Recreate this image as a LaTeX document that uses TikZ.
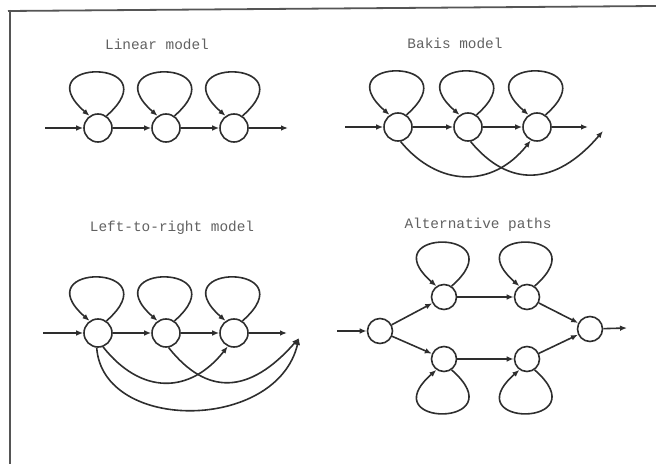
\documentclass[tikz,border=0pt]{standalone}
\usepackage{fontspec}
\setmonofont{Liberation Mono}
\usetikzlibrary{arrows.meta}
\definecolor{ink}{HTML}{2E2E2E}
\definecolor{frame}{HTML}{555555}
\begin{document}
\begin{tikzpicture}[x=0.5pt,y=-0.5pt,
  st/.style={circle,draw=ink,line width=0.8pt,minimum size=14pt,inner sep=0pt},
  sts/.style={st,minimum size=12.5pt},
  arr/.style={draw=ink,line width=0.8pt,-{Latex[length=3.5pt,width=2.8pt]}},
  uploop/.style={to path={.. controls +(66,-58) and +(-66,-58) .. (\tikztotarget)}},
  downloop/.style={to path={.. controls +(66,58) and +(-66,58) .. (\tikztotarget)}},
  ttl/.style={font=\ttfamily\fontsize{7.2}{8}\selectfont,text=black!62}]
\useasboundingbox (0,0) rectangle (656,464);
% frame
\draw[frame,line width=0.9pt] (8,11) -- (656,6);
\draw[frame,line width=0.9pt] (10,10) -- (10,464);

% ---------- Linear model ----------
\node[ttl] (tlin) at (157,44) {Linear model};
\node[st] (l1) at (98,128) {};
\node[st] (l2) at (166,128) {};
\node[st] (l3) at (234,128) {};
\coordinate (lin) at (45,128);
\coordinate (lout) at (288,128);
\draw[arr] (lin) -- (l1);
\draw[arr] (l1) -- (l2);
\draw[arr] (l2) -- (l3);
\draw[arr] (l3) -- (lout);
\foreach \n in {l1,l2,l3} \draw[arr] (\n.55) to[uploop] (\n.125);

% ---------- Bakis model ----------
\node[ttl] (tbak) at (455,43) {Bakis model};
\node[st] (b1) at (398,127) {};
\node[st] (b2) at (468,127) {};
\node[st] (b3) at (537,127) {};
\coordinate (bin) at (345,127);
\coordinate (bout) at (588,127);
\coordinate (bend) at (603,131);
\draw[arr] (bin) -- (b1);
\draw[arr] (b1) -- (b2);
\draw[arr] (b2) -- (b3);
\draw[arr] (b3) -- (bout);
\foreach \n in {b1,b2,b3} \draw[arr] (\n.55) to[uploop] (\n.125);
\draw[arr] (b1.-80) .. controls +(38,46) and +(-38,48) .. (b3.-115);
\draw[arr] (b2.-80) .. controls +(38,46) and +(-48,56) .. (bend);

% ---------- Left-to-right model ----------
\node[ttl] (tlr) at (172,228) {Left-to-right model};
\node[st] (r1) at (98,333) {};
\node[st] (r2) at (166,333) {};
\node[st] (r3) at (234,333) {};
\coordinate (rin) at (43,333);
\coordinate (rout) at (287,333);
\coordinate (rend) at (299,338);
\draw[arr] (rin) -- (r1);
\draw[arr] (r1) -- (r2);
\draw[arr] (r2) -- (r3);
\draw[arr] (r3) -- (rout);
\foreach \n in {r1,r2,r3} \draw[arr] (\n.55) to[uploop] (\n.125);
\draw[arr] (r1.-70) .. controls +(38,48) and +(-38,48) .. (r3.-115);
\draw[arr] (r2.-80) .. controls +(38,48) and +(-50,57) .. (rend);
\draw[arr] (r1.-95) .. controls +(6,85) and +(-22,94) .. (rend);

% ---------- Alternative paths ----------
\node[ttl] (talt) at (478,225) {Alternative paths};
\node[sts] (s) at (380,331) {};
\node[sts] (t1) at (444,297) {};
\node[sts] (t2) at (527,297) {};
\node[sts] (u1) at (444,359) {};
\node[sts] (u2) at (527,359) {};
\node[sts] (e) at (590,329) {};
\coordinate (ain) at (337,331);
\coordinate (aout) at (627,328);
\draw[arr] (ain) -- (s);
\draw[arr] (s) -- (t1);
\draw[arr] (s) -- (u1);
\draw[arr] (t1) -- (t2);
\draw[arr] (u1) -- (u2);
\draw[arr] (t2) -- (e);
\draw[arr] (u2) -- (e);
\draw[arr] (e) -- (aout);
\foreach \n in {t1,t2} \draw[arr] (\n.55) to[uploop] (\n.125);
\foreach \n in {u1,u2} \draw[arr] (\n.-55) to[downloop] (\n.-125);
\end{tikzpicture}
\end{document}
